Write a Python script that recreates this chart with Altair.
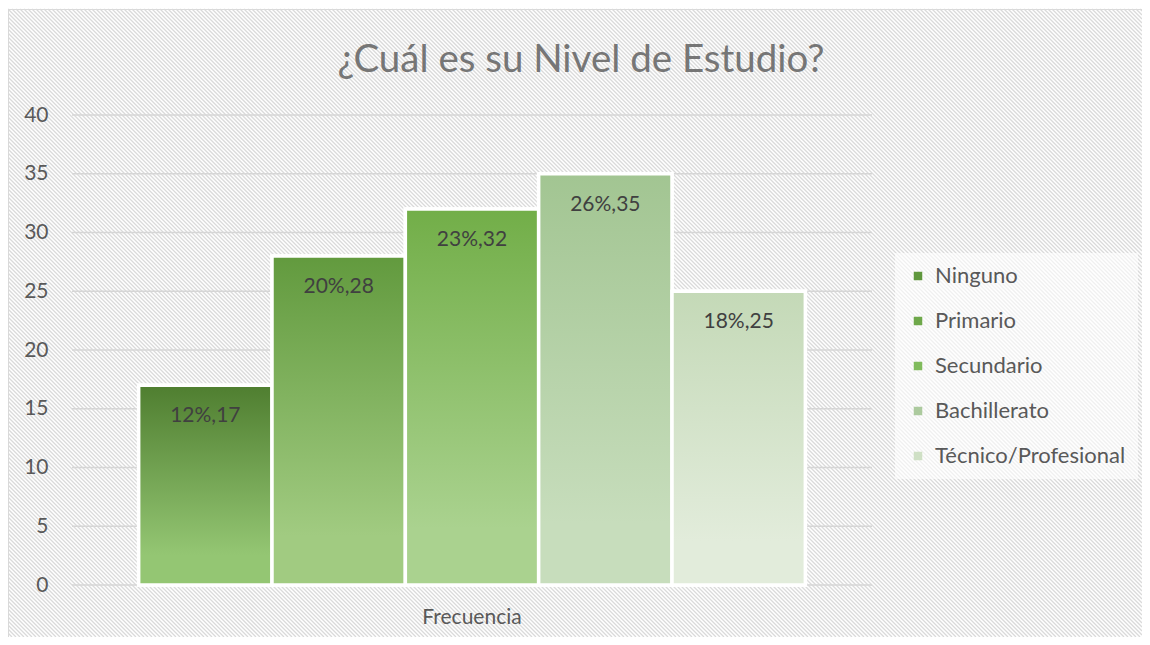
import altair as alt
import pandas as pd

# ---------------- data ----------------
categories = ["Ninguno", "Primario", "Secundario", "Bachillerato", "Técnico/Profesional"]
frequencies = [17, 28, 32, 35, 25]
percentages = [12, 20, 23, 26, 18]
group_name = "Frecuencia"
y_ticks = [0, 5, 10, 15, 20, 25, 30, 35, 40]
chart_title = "¿Cuál es su Nivel de Estudio?"

# ---------------- styles ----------------
top_colors = ["#4f7e30", "#629a3e", "#72ae48", "#a2c592", "#c4d9b7"]
bottom_colors = ["#94c673", "#a1cb81", "#aad28f", "#c7ddbc", "#e2ecdb"]
legend_colors = ["#5f973d", "#6ea84a", "#80bb5c", "#acca9e", "#cfe0c5"]
FONT = "Lato"

df = pd.DataFrame({
    "cat": categories,
    "val": frequencies,
    "pct": percentages,
    "grp": [group_name] * len(categories),
})
df["label"] = [f"{p}%,{v}" for p, v in zip(df["pct"], df["val"])]

ticks_df = pd.DataFrame({"val": y_ticks})

# ---------------- chart-area background with diagonal hatch ----------------
# chart area (plot coordinates: origin at the plot's top-left corner)
AX1, AX2, AY1, AY2 = -64, 1070, -106, 522
cx, cy = (AX1 + AX2) / 2, (AY1 + AY2) / 2
hw, hh = (AX2 - AX1) / 2, (AY2 - AY1) / 2
half = max(hw, hh)
hatch_period = 4.0  # horizontal distance between hatch lines, px

segs = []
c = -(hw + hh)
while c <= hw + hh:
    xa = max(-hw, c - hh)
    xb = min(hw, c + hh)
    if xb > xa:
        ya, yb = xa - c, xb - c
        segs.append("M%.4f,%.4fL%.4f,%.4f" % (xa / half, ya / half, xb / half, yb / half))
    c += hatch_period
hatch_path = "".join(segs)

area = alt.Chart(alt.Data(values=[{"a": 1}])).mark_rect(
    fill="white", stroke="#d9d9d9", strokeWidth=1
).encode(x=alt.value(AX1 + 0.5), x2=alt.value(AX2 + 20),
         y=alt.value(AY1 + 0.5), y2=alt.value(AY2 + 20))

hatch = alt.Chart(alt.Data(values=[{"a": 1}])).mark_point(
    shape=hatch_path, size=(2 * half) ** 2, filled=False,
    color="#dadada", strokeWidth=1.35, opacity=1
).encode(x=alt.value(cx), y=alt.value(cy))

# ---------------- scales / axes ----------------
yscale = alt.Scale(domain=[0, 40], nice=False)
yaxis = alt.Axis(values=y_ticks, labelFont=FONT, labelFontSize=21,
                 labelColor="#595959", labelPadding=24, ticks=False,
                 tickSize=0, domain=False, grid=False, zindex=2)
xaxis = alt.Axis(labelFont=FONT, labelFontSize=21, labelColor="#595959",
                 labelPadding=38, labelBaseline="alphabetic",
                 ticks=False, tickSize=0, domain=False, grid=False,
                 labelAngle=0, zindex=2)
xscale = alt.Scale(paddingInner=0, paddingOuter=0.1)
xoscale = alt.Scale(domain=categories, paddingInner=0, paddingOuter=0)


def xenc():
    return alt.X("grp:N", title=None, scale=xscale, axis=xaxis)


def xoff():
    return alt.XOffset("cat:N", sort=categories, scale=xoscale)


def yenc():
    return alt.Y("val:Q", scale=yscale, title=None, axis=yaxis)


# ---------------- gridlines ----------------
grid = alt.Chart(ticks_df).mark_rule(color="#d6d6d6", strokeWidth=1.3).encode(
    y=yenc(),
    x=alt.value(0), x2=alt.value(800),
)

legend_bars = alt.Chart(df).mark_bar(stroke="white", strokeWidth=3.5).encode(
    x=xenc(), xOffset=xoff(), y=yenc(),
    color=alt.Color("cat:N", sort=categories,
                    scale=alt.Scale(domain=categories, range=legend_colors),
                    legend=alt.Legend(title=None, orient="none", legendX=823, legendY=138,
                                      symbolType="square", symbolSize=72,
                                      symbolStrokeWidth=0, labelFont=FONT,
                                      labelFontSize=22, labelColor="#595959",
                                      rowPadding=23, labelOffset=6, padding=12,
                                      fillColor="rgba(255,255,255,0.6)",
                                      labelLimit=300, zindex=2)),
)

grad_layers = []
for cat, t, b in zip(categories, top_colors, bottom_colors):
    g = alt.LinearGradient(gradient="linear", x1=0, y1=0, x2=0, y2=1,
                           stops=[alt.GradientStop(color=t, offset=0),
                                  alt.GradientStop(color=b, offset=0.85),
                                  alt.GradientStop(color=b, offset=1)])
    grad_layers.append(
        alt.Chart(df).transform_filter(alt.datum.cat == cat)
        .mark_bar(fill=g, stroke="white", strokeWidth=3.5)
        .encode(x=xenc(), xOffset=xoff(), y=yenc())
    )

labels = alt.Chart(df).mark_text(font=FONT, fontSize=21, color="#404040",
                                 baseline="alphabetic", align="center", dy=37).encode(
    x=xenc(), xOffset=xoff(), y=yenc(),
    text="label:N",
)

title_mark = alt.Chart(alt.Data(values=[{"t": chart_title}])).mark_text(
    font=FONT, fontSize=38.5, color="#767676", baseline="alphabetic", align="center"
).encode(x=alt.value(509), y=alt.value(-43), text="t:N")

chart = alt.layer(area, hatch, grid, legend_bars, *grad_layers, labels, title_mark).properties(
    width=800, height=470,
    padding={"left": 64, "top": 107, "right": 270, "bottom": 52},
    autosize=alt.AutoSizeParams(type="none"),
).configure_view(stroke=None)

chart.save("out.html", embed_options={"renderer": "svg", "actions": False})
